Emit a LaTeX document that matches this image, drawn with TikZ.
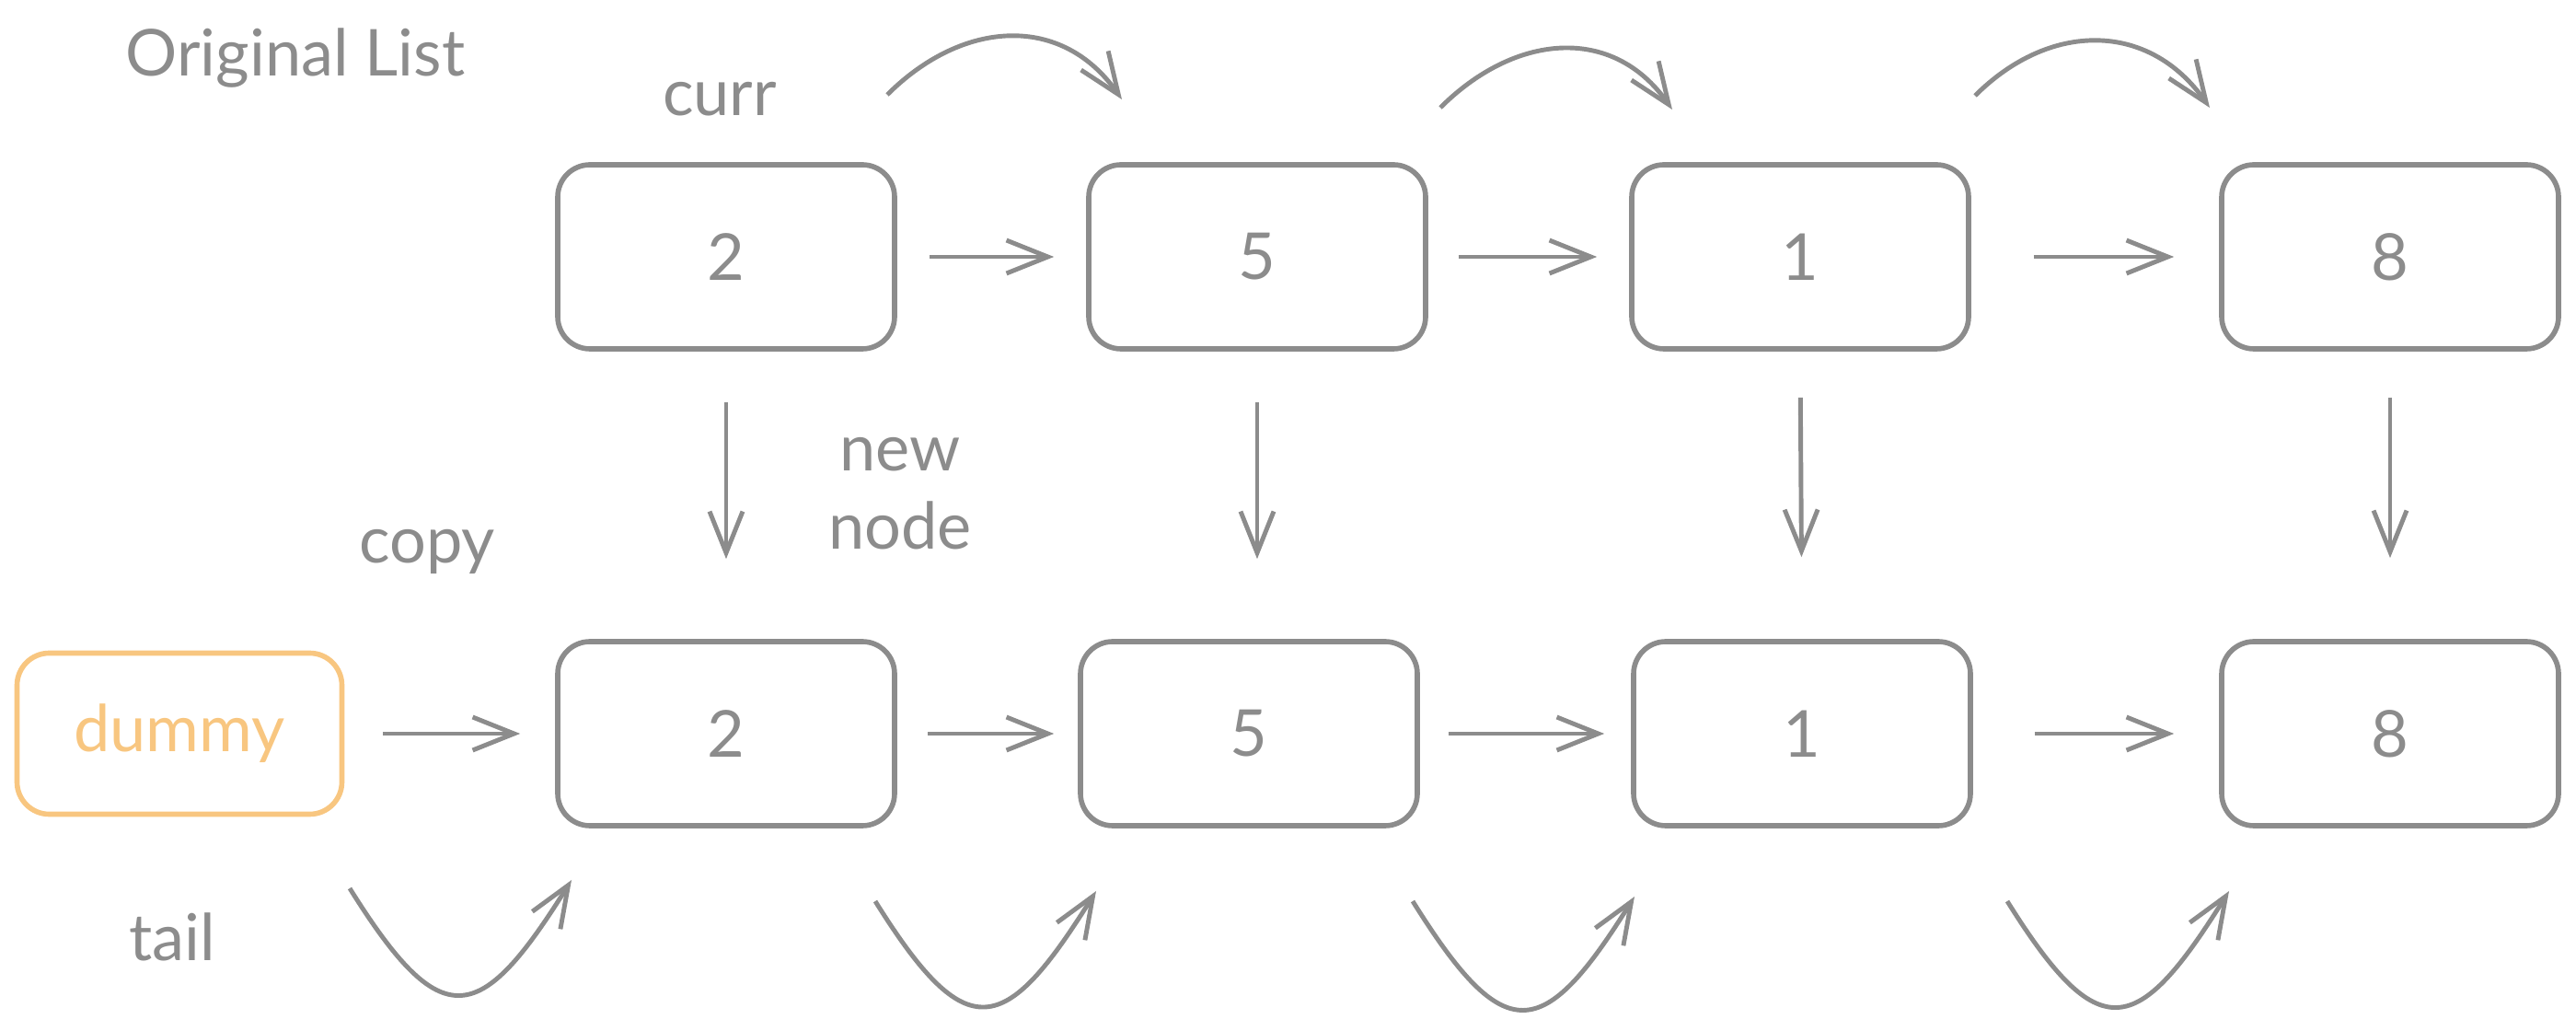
\documentclass[tikz,border=0pt]{standalone}
\usepackage{fontspec}
\setmainfont{Lato}
\usetikzlibrary{arrows.meta}
\definecolor{linegray}{RGB}{140,140,140}
\definecolor{dummyorange}{RGB}{248,198,128}

\begin{document}
\begin{tikzpicture}[
    listnode/.style={draw=linegray, line width=1.6pt, rounded corners=0.35cm,
        minimum width=3.66cm, minimum height=2cm, text=linegray,
        font=\fontsize{20}{24}\selectfont},
    link/.style={draw=linegray, line width=1.4pt,
        -{Straight Barb[length=4.5mm,width=3.6mm]}},
    note/.style={text=linegray, font=\fontsize{20}{24}\selectfont}
]
    % Fix the canvas
    \useasboundingbox (0,0) rectangle (27.99,11.2);

    % Define row heights
    \def\ytop{8.41}
    \def\ybot{3.23}

    % Draw original list
    \node[listnode] (orig2) at (7.89,\ytop) {2};
    \node[listnode] (orig5) at (13.66,\ytop) {5};
    \node[listnode] (orig1) at (19.56,\ytop) {1};
    \node[listnode] (orig8) at (25.97,\ytop) {8};

    % Draw copied list
    \node[listnode, draw=dummyorange, text=dummyorange,
        minimum width=3.53cm, minimum height=1.75cm] (dummy) at (1.95,\ybot) {dummy};
    \node[listnode] (copy2) at (7.89,\ybot) {2};
    \node[listnode] (copy5) at (13.57,\ybot) {5};
    \node[listnode] (copy1) at (19.58,\ybot) {1};
    \node[listnode] (copy8) at (25.97,\ybot) {8};

    % Labels
    \node[note] (title) at (3.21,10.57) {Original List};
    \node[note] (curr) at (7.82,10.12) {curr};
    \node[note] (copy) at (4.64,5.21) {copy};
    \node[note, align=center] (newnode) at (9.78,5.84) {new\\node};
    \node[note] (tail) at (1.87,1.02) {tail};

    % Next links
    \draw[link, shorten <=0.35cm, shorten >=0.35cm] (orig2) -- (orig5);
    \draw[link, shorten <=0.33cm, shorten >=0.35cm] (orig5) -- (orig1);
    \draw[link, shorten <=0.68cm, shorten >=0.49cm] (orig1) -- (orig8);
    \draw[link, shorten <=0.42cm, shorten >=0.38cm] (dummy) -- (copy2);
    \draw[link, shorten <=0.33cm, shorten >=0.26cm] (copy2) -- (copy5);
    \draw[link, shorten <=0.31cm, shorten >=0.29cm] (copy5) -- (copy1);
    \draw[link, shorten <=0.67cm, shorten >=0.49cm] (copy1) -- (copy8);

    % Copy links
    \draw[link, shorten <=0.55cm, shorten >=0.87cm] (orig2.south) -- (copy2.north);
    \draw[link, shorten <=0.55cm, shorten >=0.87cm] (orig5.south) -- (orig5.south |- copy5.north);
    \draw[link, shorten <=0.5cm, shorten >=0.89cm] (orig1.south) -- (copy1.north);
    \draw[link, shorten <=0.5cm, shorten >=0.88cm] (orig8.south) -- (copy8.north);

    % Curr moves along
    \coordinate (currA) at (9.64,10.17);
    \coordinate (currB) at (12.19,10.12);
    \coordinate (currC) at (15.65,10.03);
    \coordinate (currD) at (18.17,10.01);
    \coordinate (currE) at (21.46,10.16);
    \coordinate (currF) at (24.01,10.03);
    \draw[link] (currA) to[out=45, in=125, looseness=1.15] (currB);
    \draw[link] (currC) to[out=45, in=125, looseness=1.15] (currD);
    \draw[link] (currE) to[out=45, in=125, looseness=1.15] (currF);

    % Tail moves along
    \coordinate (tailA) at (3.80,1.55);
    \coordinate (tailB) at (6.21,1.64);
    \coordinate (tailC) at (9.51,1.41);
    \coordinate (tailD) at (11.91,1.52);
    \coordinate (tailE) at (15.35,1.41);
    \coordinate (tailF) at (17.76,1.46);
    \coordinate (tailG) at (21.81,1.41);
    \coordinate (tailH) at (24.22,1.52);
    \draw[link] (tailA) to[out=-58, in=-122, looseness=2] (tailB);
    \draw[link] (tailC) to[out=-58, in=-122, looseness=2] (tailD);
    \draw[link] (tailE) to[out=-58, in=-122, looseness=2] (tailF);
    \draw[link] (tailG) to[out=-58, in=-122, looseness=2] (tailH);
\end{tikzpicture}
\end{document}
